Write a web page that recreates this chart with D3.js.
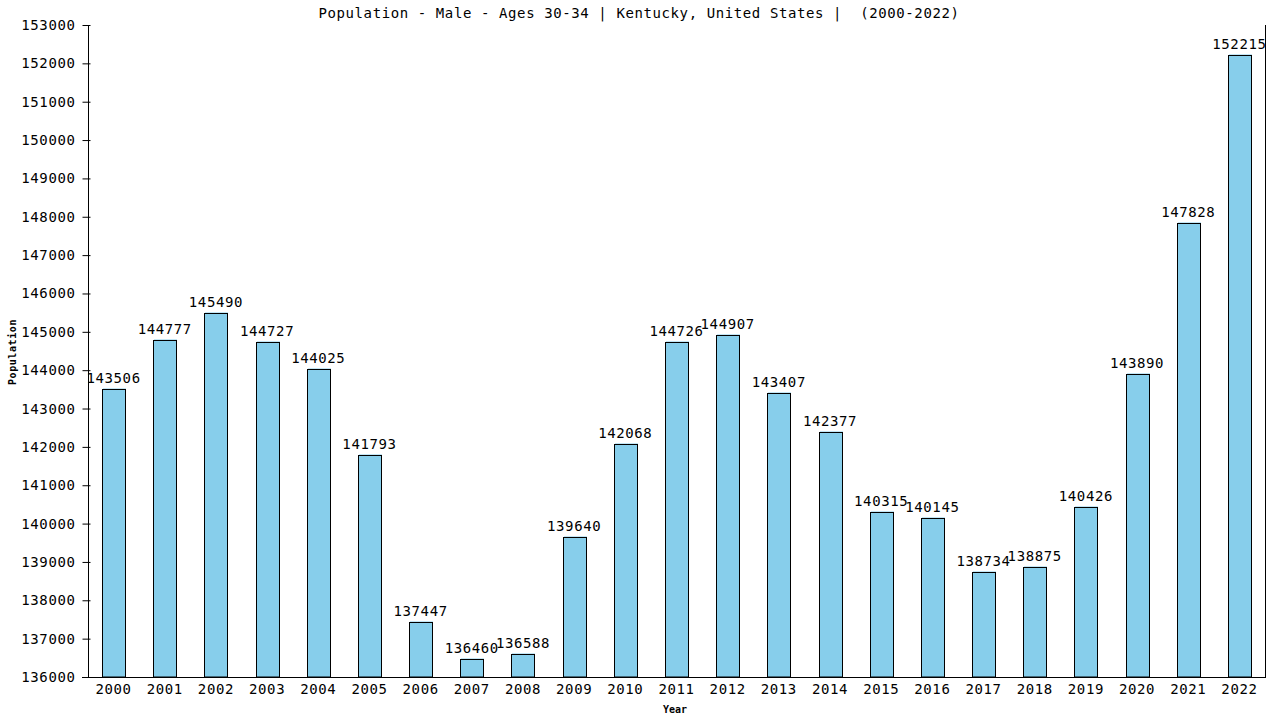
<!DOCTYPE html>
<html><head><meta charset="utf-8">
<script src="https://cdn.jsdelivr.net/npm/d3@7"></script>
<style>
html,body{margin:0;padding:0;background:#fff;}
text{font-family:"DejaVu Sans Mono",monospace;}
</style></head>
<body>
<svg id="c" width="1280" height="720"></svg>
<script>
const years = ["2000","2001","2002","2003","2004","2005","2006","2007","2008","2009","2010","2011","2012","2013","2014","2015","2016","2017","2018","2019","2020","2021","2022"];
const population = [143506,144777,145490,144727,144025,141793,137447,136460,136588,139640,142068,144726,144907,143407,142377,140315,140145,138734,138875,140426,143890,147828,152215];
const yTicks = [136000,137000,138000,139000,140000,141000,142000,143000,144000,145000,146000,147000,148000,149000,150000,151000,152000,153000];
const titleText = "Population - Male - Ages 30-34 | Kentucky, United States |  (2000-2022)";
const xTitle = "Year";
const yTitle = "Population";

const FS = "14px", LS = "0.6px";
const svg = d3.select("#c");
const L = 88, R = 1265, T = 25, B = 677;
const x = d3.scaleBand().domain(years).range([L, R]).paddingInner(0.55).paddingOuter(0.275);
const y = d3.scaleLinear().domain([136000, 153000]).range([B, T]);

// title
svg.append("text").attr("x", 639).attr("y", 18).attr("text-anchor", "middle")
  .style("white-space", "pre")
  .style("font-size", FS).style("letter-spacing", LS).text(titleText);

// bars
const g = svg.append("g");
years.forEach((yr, i) => {
  const bx = Math.round(x(yr)) + 0.5, by = Math.round(y(population[i])) + 0.5;
  const bw = Math.round(x.bandwidth()), bh = B - by;
  g.append("rect").attr("x", bx + 0.5).attr("y", by - 1).attr("width", bw).attr("height", bh + 1)
    .attr("fill", "#87CEEB");
  g.append("rect").attr("x", bx).attr("y", by).attr("width", bw).attr("height", bh)
    .attr("fill", "none").attr("stroke", "#000").attr("stroke-width", 1);
  g.append("text").attr("x", x(yr) + x.bandwidth() / 2).attr("y", by - 7)
    .attr("text-anchor", "middle").style("font-size", FS).style("letter-spacing", LS)
    .text(population[i]);
});

// y axis
const ya = svg.append("g").attr("transform", `translate(${L + 0.5},0)`)
  .call(d3.axisLeft(y).tickValues(yTicks).tickFormat(d3.format("d")).tickSize(6).tickPadding(7));
ya.select(".domain").remove();
ya.selectAll(".tick line").attr("x1", 2).attr("stroke", "#000");
ya.selectAll(".tick text").style("font-family", "DejaVu Sans Mono").style("font-size", FS)
  .style("letter-spacing", LS).attr("fill", "#000");

// x axis labels
const xa = svg.append("g").attr("transform", `translate(0,${B})`)
  .call(d3.axisBottom(x).tickSize(0).tickPadding(7));
xa.select(".domain").remove();
xa.selectAll(".tick text").style("font-family", "DejaVu Sans Mono").style("font-size", FS)
  .style("letter-spacing", LS).attr("fill", "#000");

// frame lines
svg.append("line").attr("x1", L + 0.5).attr("x2", L + 0.5).attr("y1", T).attr("y2", B).attr("stroke", "#000");
svg.append("line").attr("x1", R + 0.5).attr("x2", R + 0.5).attr("y1", T).attr("y2", B).attr("stroke", "#000");
svg.append("line").attr("x1", 82).attr("x2", R + 1).attr("y1", B + 0.5).attr("y2", B + 0.5).attr("stroke", "#000");

// axis titles
svg.append("text").attr("x", 675).attr("y", 713).attr("text-anchor", "middle")
  .style("font-size", "10px").style("font-weight", "bold").text(xTitle);
svg.append("text").attr("transform", "translate(16,352) rotate(-90)").attr("text-anchor", "middle")
  .style("font-size", "10px").style("font-weight", "bold").style("letter-spacing", "0.6px").text(yTitle);
</script>
</body></html>
